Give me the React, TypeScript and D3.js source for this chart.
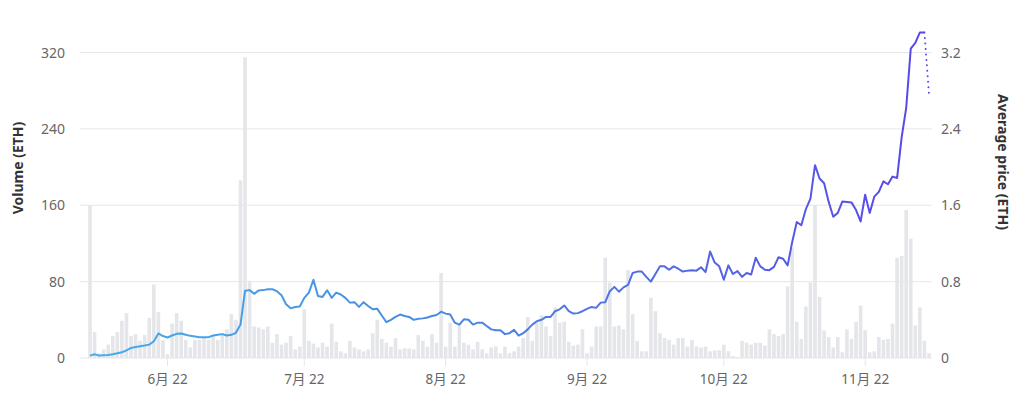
import React from "react";
import * as d3 from "d3";

const startDate = "2022-05-15";

const volume: number[] = [
  160, 27, 5, 9, 14, 23, 27, 39, 47, 23,
  25, 18, 24, 42, 77, 48, 19, 4, 36, 47,
  39, 19, 11, 19, 19, 21, 19, 23, 19, 26,
  30, 46, 40, 186, 315,
  81, 33, 32, 30, 33, 16, 25, 14, 16, 23,
  9, 12, 51, 18, 15, 11, 16, 12, 36, 17,
  7, 5, 18, 11, 9, 7, 9, 26, 40, 20,
  16, 12, 21, 9, 10, 10, 9, 24, 18, 12,
  25, 16, 89, 12, 37, 12, 36, 16, 14, 9,
  17, 9, 5, 11, 12, 5, 12,
  5, 7, 12, 21, 43, 18, 37, 45, 33, 23,
  53, 37, 38, 17, 13, 14, 30, 5, 12, 33,
  33, 105, 79, 33, 34, 30, 92, 46, 18, 7,
  7, 63, 49, 26, 21, 19, 14, 21, 21, 12,
  19, 12, 11, 12, 7,
  8, 8, 14, 7, 2, 1, 18, 16, 14, 16,
  16, 13, 30, 25, 23, 25, 75, 115, 38, 20,
  54, 79, 160, 64, 29, 22, 11, 22, 6, 30,
  20, 38, 55, 29, 6, 7, 22, 19, 20, 36,
  105, 107, 155, 125, 34, 53, 18, 5,
];

const avgPrice: number[] = [
  0.025, 0.04, 0.025, 0.028, 0.032, 0.039, 0.049, 0.06, 0.08, 0.105,
  0.116, 0.123, 0.13, 0.14, 0.176, 0.257, 0.23, 0.215, 0.236, 0.253,
  0.257, 0.243, 0.232, 0.225, 0.218, 0.218, 0.218, 0.236, 0.243, 0.25,
  0.236, 0.243, 0.264, 0.35, 0.704, 0.711, 0.672, 0.708, 0.711, 0.72,
  0.72, 0.7, 0.658, 0.563, 0.52, 0.535, 0.54, 0.63, 0.685, 0.82,
  0.65, 0.64, 0.71, 0.63, 0.685, 0.665, 0.63, 0.58, 0.585, 0.535,
  0.585, 0.545, 0.51, 0.515, 0.445, 0.375, 0.4, 0.43, 0.455, 0.44,
  0.43, 0.4, 0.41, 0.415, 0.425, 0.44, 0.45, 0.485, 0.465, 0.455,
  0.37, 0.35, 0.405, 0.4, 0.35, 0.37, 0.37, 0.335, 0.3, 0.29,
  0.29, 0.25, 0.26, 0.295, 0.235, 0.26, 0.3, 0.35, 0.385, 0.4,
  0.43, 0.43, 0.49, 0.51, 0.55, 0.49, 0.465, 0.47, 0.49, 0.515,
  0.535, 0.525, 0.58, 0.585, 0.7, 0.745, 0.695, 0.74, 0.765, 0.89,
  0.905, 0.905, 0.85, 0.8, 0.88, 0.96, 0.96, 0.925, 0.96, 0.935,
  0.905, 0.915, 0.92, 0.915, 0.95, 0.9, 1.115, 1.0, 0.96, 0.82,
  0.97, 0.88, 0.91, 0.85, 0.89, 0.875, 1.05, 0.96, 0.925, 0.92,
  0.955, 1.055, 1.04, 0.97, 1.215, 1.425, 1.39, 1.56, 1.67, 2.02,
  1.88, 1.83, 1.635, 1.48, 1.52, 1.64, 1.635, 1.63, 1.55, 1.43,
  1.71, 1.52, 1.69, 1.74, 1.85, 1.82, 1.9, 1.885, 2.31, 2.62,
  3.24, 3.3, 3.41, 3.41, 2.76,
];

const volumeTicks = [0, 80, 160, 240, 320];
const priceTicks = [0, 0.8, 1.6, 2.4, 3.2];
const monthTicks = ["2022-06-01", "2022-07-01", "2022-08-01", "2022-09-01", "2022-10-01", "2022-11-01"];
const monthLabels = ["6月 22", "7月 22", "8月 22", "9月 22", "10月 22", "11月 22"];

const W = 1024;
const H = 407;
const FONT = "'Noto Sans', 'Noto Sans CJK SC', sans-serif";

export default function App() {
  const start = new Date(startDate + "T00:00:00Z");
  const dates = volume.map((_, i) => d3.utcDay.offset(start, i));
  const last = dates[dates.length - 1];

  const x = d3.scaleUtc().domain([start, last]).range([90, 929]);
  const yVol = d3.scaleLinear().domain([0, 320]).range([358, 52.5]);
  const yPrice = d3.scaleLinear().domain([0, 3.2]).range([358, 52.5]);

  const barW = 3.6;
  const pts = avgPrice.map((p, i) => [x(dates[i]), yPrice(p)] as [number, number]);
  const line = d3.line<[number, number]>().x((d) => d[0]).y((d) => d[1]);
  const solidPath = line(pts.slice(0, pts.length - 1)) || "";
  const dotPath = line(pts.slice(pts.length - 2)) || "";

  const gridX0 = 80;
  const gridX1 = 932;

  return (
    <svg width={W} height={H} style={{ position: "absolute", left: 0, top: 0, background: "#fff" }}>
      <defs>
        <linearGradient id="lineGrad" gradientUnits="userSpaceOnUse" x1={90} y1={0} x2={929} y2={0}>
          <stop offset="0%" stopColor="#45aeea" />
          <stop offset="45%" stopColor="#4a86e2" />
          <stop offset="100%" stopColor="#5a46e8" />
        </linearGradient>
      </defs>

      {volumeTicks.map((t) => (
        <line key={"g" + t} x1={gridX0} x2={gridX1} y1={yVol(t)} y2={yVol(t)} stroke="#e6e7eb" strokeWidth={1} />
      ))}

      {volume.map((v, i) => (
        <rect
          key={"b" + i}
          x={x(dates[i]) - barW / 2}
          y={yVol(v)}
          width={barW}
          height={yVol(0) - yVol(v)}
          fill="#e4e6e9"
        />
      ))}

      <path d={solidPath} fill="none" stroke="url(#lineGrad)" strokeWidth={2} strokeLinejoin="round" />
      <path d={dotPath} fill="none" stroke="#5a46e8" strokeWidth={2} strokeDasharray="0 5.5" strokeLinecap="round" />

      {monthTicks.map((m, i) => {
        const xx = x(new Date(m + "T00:00:00Z"));
        return (
          <g key={"m" + i}>
            <line x1={xx} x2={xx} y1={358} y2={366} stroke="#e6e7eb" />
            <text x={xx} y={384} textAnchor="middle" fontFamily={FONT} fontSize={13.5} fill="#666">
              {monthLabels[i]}
            </text>
          </g>
        );
      })}

      {volumeTicks.map((t) => (
        <text key={"lv" + t} x={65} y={yVol(t) + 5} textAnchor="end" fontFamily={FONT} fontSize={14} fill="#666">
          {t}
        </text>
      ))}
      {priceTicks.map((t) => (
        <text key={"lp" + t} x={941} y={yPrice(t) + 5} textAnchor="start" fontFamily={FONT} fontSize={14} fill="#666">
          {t === 0 ? "0" : t.toString()}
        </text>
      ))}

      <text
        transform="translate(23,168) rotate(-90)"
        textAnchor="middle"
        fontFamily={FONT}
        fontSize={14}
        fontWeight="bold"
        fill="#333"
      >
        Volume (ETH)
      </text>
      <text
        transform="translate(998,162) rotate(90)"
        textAnchor="middle"
        fontFamily={FONT}
        fontSize={14}
        fontWeight="bold"
        fill="#333"
      >
        Average price (ETH)
      </text>
    </svg>
  );
}
